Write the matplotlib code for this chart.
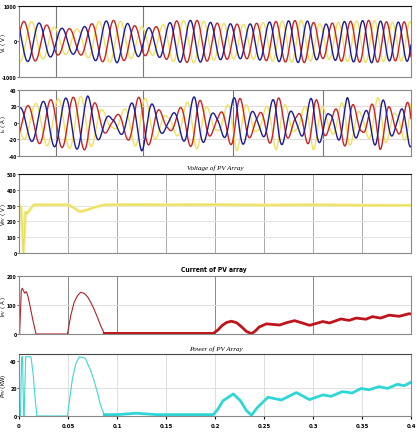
import numpy as np
import matplotlib.pyplot as plt

plt.rcParams['axes.unicode_minus'] = False

# scope time axis (s)
x_ticks = [0, 0.05, 0.1, 0.15, 0.2, 0.25, 0.3, 0.35, 0.4]
x_labels = ['0', '0.05', '0.1', '0.15', '0.2', '0.25', '0.3', '0.35', '0.4']

# grid frequency (start / end of run, Hz)
f_start = 42.0
f_end = 56.0

# load voltage peak envelope (V), top panel
vl_env_t = [0, 0.015, 0.04, 0.06, 0.08, 0.1, 0.12, 0.135, 0.16, 0.18, 0.2, 0.23,
            0.26, 0.29, 0.31, 0.33, 0.36, 0.38, 0.4]
vl_env = [570, 560, 380, 350, 560, 600, 430, 380, 580, 600, 520, 480,
          560, 600, 480, 560, 600, 540, 560]
vl_phase = 0.25

# source current peak envelope (A), second panel
is_env_t = [0, 0.03, 0.07, 0.095, 0.125, 0.152, 0.18, 0.202, 0.222, 0.243, 0.263,
            0.283, 0.3, 0.317, 0.335, 0.35, 0.368, 0.385, 0.4]
is_env = [18, 28, 33, 5, 34, 7, 33, 8, 34, 9, 33, 8, 33, 10, 31, 10, 33, 10, 30]
is_phase = -0.81

# PV array voltage (V)
vpv_t = [0, 0.002, 0.0035, 0.0045, 0.0055, 0.0065, 0.008, 0.011, 0.0135, 0.0155,
         0.05, 0.055, 0.06, 0.063, 0.068, 0.075, 0.082, 0.087, 0.12, 0.15, 0.2,
         0.25, 0.3, 0.35, 0.4]
vpv = [300, 290, 150, 0, 110, 258, 250, 272, 295, 305,
       305, 290, 268, 262, 270, 285, 297, 305, 306, 305, 306,
       303, 305, 302, 301]

# PV array current (A)
ipv_t = [0, 0.0006, 0.0023, 0.0033, 0.0045, 0.0057, 0.0074, 0.009, 0.0105, 0.0122,
         0.0139, 0.0157, 0.0173, 0.0494, 0.0528, 0.0562, 0.0596, 0.063, 0.0665,
         0.07, 0.0731, 0.0765, 0.08, 0.0833, 0.087, 0.12, 0.16, 0.1983, 0.203,
         0.2075, 0.212, 0.2168, 0.222, 0.227, 0.232, 0.2372, 0.241, 0.245, 0.2525,
         0.259, 0.266, 0.274, 0.2812, 0.289, 0.2964, 0.303, 0.31, 0.3168, 0.3227,
         0.3286, 0.333, 0.337, 0.344, 0.349, 0.354, 0.3607, 0.365, 0.369, 0.3777,
         0.383, 0.388, 0.398, 0.4]
ipv = [0, 0, 149, 158, 150, 141, 146, 132, 109, 80,
       52, 25, 0, 0, 63, 109, 132, 144, 140,
       128, 110, 86, 58, 29, 2, 2, 2, 2, 14,
       30, 40, 44, 39, 25, 9, 1, 10, 24, 35,
       33, 31, 40, 46, 38, 30, 36, 43, 38, 45,
       52, 49, 47, 55, 53, 51, 60, 57, 55, 65,
       63, 61, 70, 69]

# PV array power (kW)
ppv_t = [0, 0.0015, 0.0027, 0.0036, 0.0047, 0.0052, 0.0068, 0.0122, 0.0145, 0.0165,
         0.0183, 0.0494, 0.052, 0.0545, 0.058, 0.0615, 0.0675, 0.07, 0.0731, 0.0765,
         0.08, 0.0833, 0.087, 0.1, 0.11, 0.12, 0.13, 0.14, 0.17, 0.1983, 0.203,
         0.208, 0.2186, 0.226, 0.232, 0.2372, 0.243, 0.254, 0.2677, 0.283, 0.2964,
         0.31, 0.3185, 0.33, 0.34, 0.349, 0.357, 0.3675, 0.376, 0.386, 0.393, 0.4]
ppv = [0, 0, 43, 43, 0, 0, 43, 43, 30, 12,
       0, 0, 14, 27, 38, 43, 42, 38, 33, 26,
       17, 7.5, 1, 1, 1.5, 2, 1.5, 1, 1, 1, 5,
       11, 16, 11, 4, 0.5, 6, 13.6, 11.6, 17, 11.9,
       15.3, 14.3, 17.7, 16.7, 20, 19, 21.3, 20, 23, 22, 24.5]

RED = '#cc2323'
YEL = '#f0e15a'
BLU = '#1b1b98'
NARROW = ['DejaVu Sans']

# panel frame: left edge and width in figure fractions
LEFT = 0.0457
WIDTH = 0.9423


def three_phase(ax, t, env, phase):
    th = 2 * np.pi * (f_start * t + (f_end - f_start) / 0.8 * t ** 2) + phase
    ax.plot(t, env * np.sin(th - 2 * np.pi / 3), color=YEL, lw=1.0)
    ax.plot(t, env * np.sin(th), color=RED, lw=1.0)
    ax.plot(t, env * np.sin(th + 2 * np.pi / 3), color=BLU, lw=1.0)


def narrow(labels):
    for lab in labels:
        lab.set_fontweight('bold')
        lab.set_family(NARROW)
        lab.set_fontstretch('condensed')


def style(ax, yticks, ylabel, spine='#888888', top='#888888', lx=-0.029):
    ax.set_xlim(0, 0.4)
    ax.set_xticks(x_ticks)
    ax.set_xticklabels([])
    ax.set_yticks(yticks)
    ax.set_yticklabels([str(v) for v in yticks])
    for s in ax.spines.values():
        s.set_color(spine)
        s.set_linewidth(0.8)
    ax.spines['top'].set_color(top)
    ax.tick_params(axis='y', length=1.2, width=0.6, color='#444444', pad=0.5,
                   labelsize=3.7, direction='out')
    ax.tick_params(axis='x', length=0)
    narrow(ax.get_yticklabels())
    ax.set_ylabel(ylabel, fontsize=3.9, labelpad=0)
    ax.yaxis.set_label_coords(lx, 0.5)


fig = plt.figure(figsize=(4.16, 4.35), dpi=100)

t = np.linspace(0, 0.4, 8000)

# load voltages
ax1 = fig.add_axes([LEFT, 0.8207, WIDTH, 0.1632])
for g in [0.0376, 0.127]:
    ax1.axvline(g, color='#777777', lw=0.8, zorder=0)
three_phase(ax1, t, np.interp(t, vl_env_t, vl_env), vl_phase)
ax1.set_ylim(-1000, 1000)
style(ax1, [-1000, 0, 1000], 'V$_L$ ( V )', top='#111111')

# source currents
ax2 = fig.add_axes([LEFT, 0.6391, WIDTH, 0.1517])
for g in [0.0376, 0.127, 0.218, 0.310]:
    ax2.axvline(g, color='#777777', lw=0.8, zorder=0)
for g in [-20, 20]:
    ax2.axhline(g, color='#dddddd', lw=0.8, zorder=0)
three_phase(ax2, t, np.interp(t, is_env_t, is_env), is_phase)
ax2.set_ylim(-40, 40)
style(ax2, [-40, -20, 0, 20, 40], 'i$_s$ ( A )')

# PV voltage
ax3 = fig.add_axes([LEFT, 0.4161, WIDTH, 0.1816])
for g in x_ticks[1:-1]:
    ax3.axvline(g, color='#aaaaaa', lw=0.7, zorder=0)
for g in [100, 200, 300, 400]:
    ax3.axhline(g, color='#e2e2e2', lw=0.7, zorder=0)
ax3.plot(vpv_t, vpv, color='#f5ee9c', lw=2.4)
ax3.plot(vpv_t, vpv, color='#eadb50', lw=0.8)
ax3.set_ylim(0, 500)
style(ax3, [0, 100, 200, 300, 400, 500], 'V$_{PV}$ ( V )', top='#111111')

# PV current
ax4 = fig.add_axes([LEFT, 0.2299, WIDTH, 0.1333])
for g in [0.05, 0.1, 0.2, 0.3]:
    ax4.axvline(g, color='#888888', lw=0.7, zorder=0)
ax4.axhline(100, color='#e0e0e0', lw=0.7, zorder=0)
ipv_t_a = np.array(ipv_t)
ipv_a = np.array(ipv)
ax4.plot(ipv_t_a, ipv_a, color='#b3202a', lw=0.8)
m = ipv_t_a >= 0.087
ax4.plot(ipv_t_a[m], ipv_a[m], color='#c0141c', lw=2.0)
ax4.set_ylim(0, 200)
style(ax4, [0, 100, 200], 'I$_{PV}$ ( A )')

# PV power
ax5 = fig.add_axes([LEFT, 0.0414, WIDTH, 0.1425])
for g in x_ticks[1:-1]:
    ax5.axvline(g, color='#dddddd', lw=0.7, zorder=0)
ax5.axhline(20, color='#e0e0e0', lw=0.7, zorder=0)
ppv_t_a = np.array(ppv_t)
ppv_a = np.array(ppv)
ax5.plot(ppv_t_a, ppv_a, color='#3cd8d8', lw=0.8)
m = ppv_t_a >= 0.087
ax5.plot(ppv_t_a[m], ppv_a[m], color='#2fd6d6', lw=2.0)
ax5.set_ylim(0, 45)
style(ax5, [0, 20, 40], '$P_{PV}$ (KW)', top='#444444')
ax5.set_xticklabels(x_labels)
ax5.tick_params(axis='x', length=2, labelsize=4.3, pad=3)
narrow(ax5.get_xticklabels())

fig.text(0.517, 0.614, 'Voltage of PV Array', fontsize=5, style='italic',
         family='Liberation Serif', ha='center', va='center')
fig.text(0.514, 0.379, 'Current of PV array', fontsize=4.8, fontweight='bold',
         family=NARROW, fontstretch='condensed', ha='center', va='center')
fig.text(0.519, 0.198, 'Power of PV Array', fontsize=5, style='italic',
         family='Liberation Serif', ha='center', va='center')

fig.savefig('out.png', dpi=100, facecolor='white')
